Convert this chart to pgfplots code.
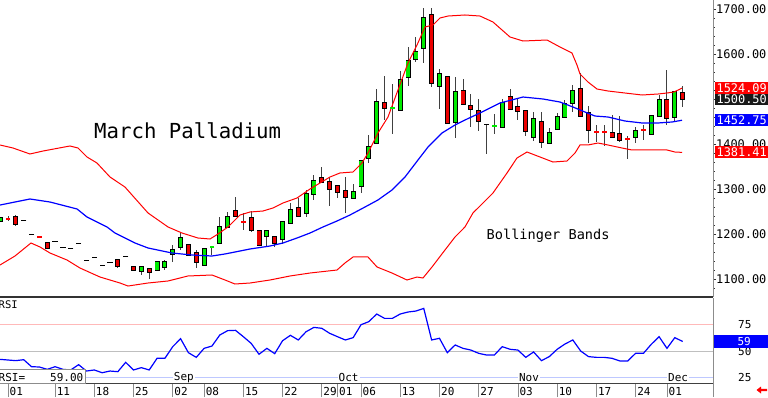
\documentclass[border=0pt]{standalone}
\usepackage{pgfplots}
\pgfplotsset{compat=1.18}
\usepackage{pgfplotstable}
\usepackage{fontspec}
\setmainfont{DejaVu Sans Mono}
\definecolor{cgreen}{RGB}{0,235,0}
\definecolor{cred}{RGB}{235,0,0}
\definecolor{bred}{RGB}{255,0,0}
\definecolor{bblue}{RGB}{0,0,255}
\definecolor{axgray}{RGB}{140,140,140}
\definecolor{lblue}{RGB}{190,200,255}
\definecolor{lpink}{RGB}{255,185,185}
\newcommand\fs[1]{\fontsize{#1}{#1}\selectfont}

\pgfplotstableread{
i h l
-1 1238 1227
0 1240 1229
1 1242 1218
5 1182 1167
14 1144 1124
16 1127 1120
17 1127 1109
18 1122 1100
19 1138 1120
20 1142 1120
21 1176 1138
22 1202 1164
23 1176 1153
24 1164 1124
25 1169 1129
26 1171 1153
27 1238 1180
28 1249 1216
29 1282 1238
30 1247 1209
31 1251 1204
32 1207 1173
33 1209 1171
34 1196 1171
35 1229 1178
36 1269 1222
37 1280 1238
38 1298 1238
39 1331 1276
40 1349 1313
41 1327 1262
42 1309 1280
43 1327 1247
44 1311 1278
45 1364 1291
46 1420 1358
47 1522 1402
48 1551 1453
49 1533 1422
50 1562 1476
51 1616 1529
52 1638 1582
53 1702 1580
54 1702 1527
55 1567 1478
56 1551 1444
57 1549 1413
58 1544 1487
59 1511 1438
60 1500 1429
61 1445 1378
62 1467 1422
63 1500 1438
64 1522 1476
65 1500 1453
66 1473 1418
67 1471 1407
68 1471 1391
69 1436 1400
70 1469 1431
71 1498 1458
72 1531 1471
73 1558 1460
74 1484 1402
75 1442 1404
76 1442 1396
77 1464 1413
78 1462 1404
79 1418 1367
80 1438 1402
81 1442 1409
82 1464 1420
83 1509 1460
84 1564 1442
85 1518 1449
86 1529 1482
}\wicks

\pgfplotstableread{
i o c
-1 1229 1236
17 1118 1127
19 1120 1138
20 1127 1138
21 1156 1164
22 1171 1191
25 1131 1167
27 1180 1216
28 1216 1238
33 1196 1207
35 1189 1227
36 1224 1253
38 1247 1289
39 1289 1318
44 1280 1293
45 1307 1362
46 1369 1393
47 1402 1493
50 1476 1542
51 1549 1584
52 1589 1604
53 1613 1680
55 1529 1556
57 1449 1516
63 1438 1491
67 1416 1456
69 1402 1424
70 1433 1460
71 1460 1489
72 1491 1518
80 1416 1429
82 1422 1462
83 1462 1498
85 1460 1516
}\greens

\pgfplotstableread{
i o c
1 1238 1222
5 1180 1169
14 1142 1129
16 1127 1120
18 1122 1116
23 1176 1153
24 1158 1138
29 1251 1240
31 1236 1209
32 1207 1176
34 1193 1180
37 1258 1240
40 1324 1316
41 1316 1300
42 1307 1293
43 1296 1282
48 1491 1480
54 1687 1536
56 1549 1447
58 1518 1489
59 1484 1478
60 1473 1451
64 1504 1478
65 1482 1473
66 1473 1429
68 1449 1404
73 1522 1462
74 1469 1431
77 1424 1416
78 1422 1409
84 1498 1458
86 1513 1500.5
}\reds

\pgfplotstableread{
i p
2 1231.1
3 1197.8
6 1184.4
7 1168.9
8 1166.7
9 1177.8
10 1142.2
11 1146.7
12 1131.1
13 1135.6
15 1148.9
61 1443
}\dashk

\pgfplotstableread{
i p
0 1233.3
4 1193.3
30 1227
75 1427
76 1427
79 1411
81 1431
}\dashr

\pgfplotstableread{
i p
26 1171
49 1480
62 1440
}\dashg

\pgfplotstableread{
i r
-1 42.1
0 41.5
1 40.9
2 41.8
3 35.2
4 34.9
5 32.7
6 35.2
7 32.7
8 32.1
9 37.1
10 31.1
11 32.1
12 29.5
13 31.1
14 30.5
15 39.3
16 32.1
17 34.3
18 32.1
19 43.1
20 43.1
21 54.1
22 61.6
23 48.4
24 44.0
25 52.5
26 54.7
27 65.1
28 69.2
29 69.5
30 63.5
31 57.2
32 46.9
33 52.5
34 47.5
35 59.7
36 64.8
37 60.4
38 68.2
39 72.3
40 71.4
41 66.7
42 63.5
43 60.4
44 62.6
45 74.8
46 77.7
47 84.9
48 80.8
49 80.8
50 84.9
51 86.8
52 87.7
53 90.2
54 60.4
55 62.0
56 48.4
57 55.7
58 52.5
59 50.9
60 47.8
61 46.2
62 46.2
63 54.1
64 51.6
65 50.9
66 44.0
67 49.1
68 40.9
69 44.7
70 51.6
71 56.6
72 60.4
73 50.0
74 44.7
75 44.0
76 44.0
77 43.1
78 40.6
79 40.6
80 47.8
81 47.8
82 56.3
83 63.5
84 52.5
85 62.6
86 59.0
}\rsi

\begin{document}
\begin{tikzpicture}[x=1pt,y=1pt]
\pgfplotsset{
  pane/.style={scale only axis, width=713pt, anchor=north west, xmin=-1.02, xmax=89.87},
}
% ---------------- main price panel ----------------
\begin{axis}[pane, at={(0pt,0pt)}, height=297pt, ymin=1060, ymax=1720,
  axis x line*=bottom, axis y line*=right,
  x axis line style={draw=black!80, line width=1.6pt},
  y axis line style={draw=axgray, line width=0.8pt},
  xtick=\empty,
  ytick={1100,1200,1300,1400,1500,1600,1700},
  yticklabels={1100.00,1200.00,1300.00,1400.00,1500.00,1600.00,1700.00},
  yticklabel style={font=\fs{11.9}, anchor=west, inner sep=0pt, xshift=0pt},
  tick align=outside, major tick length=3pt, minor tick length=1.5pt,
  minor ytick={1080,1120,1140,1160,1180,1220,1240,1260,1280,1320,1340,1360,1380,1420,1440,1460,1480,1520,1540,1560,1580,1620,1640,1660,1680},
  ytick style={draw=black!80, line width=0.8pt},
  /pgf/number format/assume math mode=true,
]
% wicks
\addplot[draw=none, forget plot, error bars/.cd, y dir=both, y explicit, error mark=none,
  error bar style={draw=black!75, line width=1pt}]
  table[x=i, y expr={(\thisrow{h}+\thisrow{l})/2}, y error expr={(\thisrow{h}-\thisrow{l})/2}] {\wicks};
% green bodies
\addplot[draw=none, forget plot, error bars/.cd, y dir=both, y explicit, error mark=none,
  error bar style={draw=black, line width=5pt}]
  table[x=i, y expr={(\thisrow{o}+\thisrow{c})/2}, y error expr={abs(\thisrow{c}-\thisrow{o})/2+2.2}] {\greens};
\addplot[draw=none, forget plot, error bars/.cd, y dir=both, y explicit, error mark=none,
  error bar style={draw=cgreen, line width=3.2pt}]
  table[x=i, y expr={(\thisrow{o}+\thisrow{c})/2}, y error expr={abs(\thisrow{c}-\thisrow{o})/2}] {\greens};
% red bodies
\addplot[draw=none, forget plot, error bars/.cd, y dir=both, y explicit, error mark=none,
  error bar style={draw=black, line width=5pt}]
  table[x=i, y expr={(\thisrow{o}+\thisrow{c})/2}, y error expr={abs(\thisrow{c}-\thisrow{o})/2+2.2}] {\reds};
\addplot[draw=none, forget plot, error bars/.cd, y dir=both, y explicit, error mark=none,
  error bar style={draw=cred, line width=3.2pt}]
  table[x=i, y expr={(\thisrow{o}+\thisrow{c})/2}, y error expr={abs(\thisrow{c}-\thisrow{o})/2}] {\reds};
% dashes
\addplot[only marks, forget plot, mark=-, mark size=2.6pt, mark options={draw=black, line width=1pt}] table[x=i,y=p] {\dashk};
\addplot[only marks, forget plot, mark=-, mark size=2.4pt, mark options={draw=bred, line width=1.6pt}] table[x=i,y=p] {\dashr};
\addplot[only marks, forget plot, mark=-, mark size=2.4pt, mark options={draw=cgreen, line width=1.6pt}] table[x=i,y=p] {\dashg};
% Bollinger bands
\addplot[bblue, line width=1.2pt] coordinates {(-1.02,1264.4) (2.80,1277.8) (5.35,1271.1) (8.80,1255.6) (10.07,1237.8) (12.62,1215.6) (13.64,1202.2) (16.19,1180) (17.85,1168.9) (20.90,1157.8) (23.45,1153.3) (26.00,1151.1) (27.66,1155.6) (28.93,1160) (30.85,1166.7) (33.40,1173.3) (35.05,1180) (36.84,1191.1) (38.50,1202.2) (40.15,1215.6) (41.94,1228.9) (43.59,1242.2) (45.51,1260) (47.16,1275.6) (48.95,1297.8) (50.61,1326.7) (52.26,1364.4) (53.54,1393.3) (55.32,1424.4) (56.98,1442.2) (58.25,1453.3) (60.17,1468.9) (62.72,1491.1) (65.65,1504.4) (68.20,1500) (70.36,1493.3) (72.02,1482.2) (73.55,1471.1) (74.82,1462.2) (76.48,1460) (78.65,1451.1) (80.82,1446.7) (82.86,1446.7) (84.64,1448.9) (85.92,1452.75)};
\addplot[bred, line width=1pt] coordinates {(-1.02,1397.8) (0.64,1391.1) (2.80,1377.8) (4.46,1384.4) (7.90,1395.6) (8.92,1391.1) (10.07,1371.1) (11.34,1357.8) (13.00,1326.7) (14.91,1304.4) (17.85,1246.7) (20.40,1215.6) (22.18,1202.2) (24.22,1191.1) (25.75,1188.9) (26.77,1200) (28.04,1215.6) (29.57,1242.2) (30.85,1248.9) (32.50,1251.1) (33.78,1257.8) (35.05,1268.9) (36.84,1280) (38.50,1300) (39.77,1313.3) (41.05,1326.7) (42.32,1335.6) (43.98,1337.8) (45.12,1357.8) (45.89,1380) (47.16,1424.4) (48.44,1460) (49.71,1520) (50.99,1580) (52.14,1620) (53.16,1660) (54.17,1664.4) (55.07,1680) (56.09,1684.4) (58.25,1686.7) (60.17,1684.4) (61.82,1671.1) (63.99,1637.8) (65.65,1628.9) (68.71,1631.1) (70.36,1615.6) (71.89,1602.2) (72.53,1575.6) (72.91,1555.6) (73.93,1537.8) (75.08,1522.2) (76.48,1517.8) (78.65,1513.3) (80.82,1508.9) (82.86,1511.1) (84.00,1513.3) (84.89,1515.6) (85.92,1524.09)};
\addplot[bred, line width=1pt] coordinates {(-1.02,1131.1) (0.89,1151.1) (2.93,1180) (4.08,1171.1) (5.35,1157.8) (7.52,1142.2) (9.18,1124.4) (11.73,1104.4) (14.28,1091.1) (15.30,1084.4) (17.85,1091.1) (20.40,1095.6) (22.94,1106.7) (26.00,1108.9) (27.66,1097.8) (28.93,1088.9) (30.85,1091.1) (33.40,1097.8) (35.95,1106.7) (38.50,1113.3) (41.94,1120) (42.96,1135.6) (43.98,1148.9) (45.89,1148.9) (47.04,1126.7) (48.95,1113.3) (50.86,1097.8) (52.14,1104.4) (52.90,1102.2) (54.05,1126.7) (55.70,1164.4) (56.98,1193.3) (58.25,1215.6) (59.27,1246.7) (61.82,1291.1) (63.61,1335.6) (64.88,1368.9) (66.16,1382.2) (67.82,1371.1) (69.47,1360) (71.26,1362.2) (72.28,1380) (72.91,1397.8) (73.93,1397.8) (75.21,1402.2) (76.48,1397.8) (78.27,1391.1) (79.54,1386.7) (82.09,1386.7) (84.00,1386.7) (85.02,1382.2) (85.92,1381.41)};
\end{axis}

% ---------------- RSI panel ----------------
\begin{axis}[pane, at={(0pt,-298pt)}, height=85pt, ymin=19.8, ymax=100,
  axis x line*=bottom, axis y line*=right,
  x axis line style={draw=black!75, line width=0.8pt},
  y axis line style={draw=axgray, line width=0.8pt},
  xtick={0,6,11,16,21,25,30,35,40,42,45,50,55,60,65,70,75,80,84},
  xticklabels={01,11,18,25,02,08,15,22,29,01,06,13,20,27,03,10,17,24,01},
  xticklabel style={font=\fs{11}, anchor=north west, inner sep=0pt, xshift=1.5pt, yshift=9.5pt},
  x tick style={draw=axgray, line width=0.8pt},
  tick align=outside, major tick length=14pt,
  ytick={25,50,75},
  yticklabel style={font=\fs{11}, anchor=west, inner sep=0pt, xshift=11pt},
  y tick style={draw=none},
  /pgf/number format/assume math mode=true,
]
\addplot[lpink, line width=0.8pt, forget plot] coordinates {(-1.02,75) (89.87,75)};
\addplot[black!25, line width=0.8pt, forget plot] coordinates {(-1.02,50) (89.87,50)};
\addplot[lblue, line width=0.8pt, forget plot] coordinates {(9.8,25) (89.87,25)};
\addplot[bblue, line width=1.2pt] table[x=i,y=r] {\rsi};
\node[fill=white, inner xsep=1pt, inner ysep=0.5pt, anchor=west, font=\fs{11}] at (axis cs:21,25) {Sep};
\node[fill=white, inner xsep=1pt, inner ysep=0.5pt, anchor=west, font=\fs{11}] at (axis cs:42,25) {Oct};
\node[fill=white, inner xsep=1pt, inner ysep=0.5pt, anchor=west, font=\fs{11}] at (axis cs:65,25) {Nov};
\node[fill=white, inner xsep=1pt, inner ysep=0.5pt, anchor=west, font=\fs{11}] at (axis cs:84,25) {Dec};
\end{axis}

% frame extension and annotations
\draw[axgray, line width=0.8pt] (713,-383) -- (713,-397);
\node[anchor=base west, inner sep=0pt, font=\fs{20.7}] at (94,-138) {March Palladium};
\node[anchor=base west, inner sep=0pt, font=\fs{13.6}] at (486.5,-239.3) {Bollinger Bands};
% price boxes
\node[fill=bred, text=white, font=\fs{11.9}, inner sep=0pt, minimum height=12pt, minimum width=53pt, anchor=west] at (715,-88.2) {1524.09};
\node[fill=black!90, text=white, font=\fs{11.9}, inner sep=0pt, minimum height=11pt, minimum width=53pt, anchor=west] at (715,-99.2) {1500.50};
\node[fill=bblue, text=white, font=\fs{11.9}, inner sep=0pt, minimum height=12pt, minimum width=53pt, anchor=west] at (715,-120.3) {1452.75};
\node[fill=bred, text=white, font=\fs{11.9}, inner sep=0pt, minimum height=12pt, minimum width=53pt, anchor=west] at (715,-152.4) {1381.41};
% RSI annotations
\node[anchor=base west, inner sep=0pt, font=\fs{10.5}] at (-1.5,-308.5) {RSI};
\draw[black!45, fill=white, line width=0.8pt] (-1,-369.5) rectangle (85,-383);
\node[anchor=base west, inner sep=0pt, font=\fs{11}] at (-1.5,-381.5) {RSI=};
\node[anchor=base east, inner sep=0pt, font=\fs{11}] at (83.5,-381.5) {59.00};
\fill[bblue] (714,-335) rectangle (768,-347.5);
\node[anchor=east, text=white, inner sep=0pt, font=\fs{11}] at (751,-341.3) {59};
\fill[red] (756.5,-390) -- (761,-386.5) -- (761,-388.9) -- (767,-388.9) -- (767,-391.1) -- (761,-391.1) -- (761,-393.5) -- cycle;
\pgfresetboundingbox
\path (0,0) rectangle (768,-397);
\end{tikzpicture}
\end{document}
